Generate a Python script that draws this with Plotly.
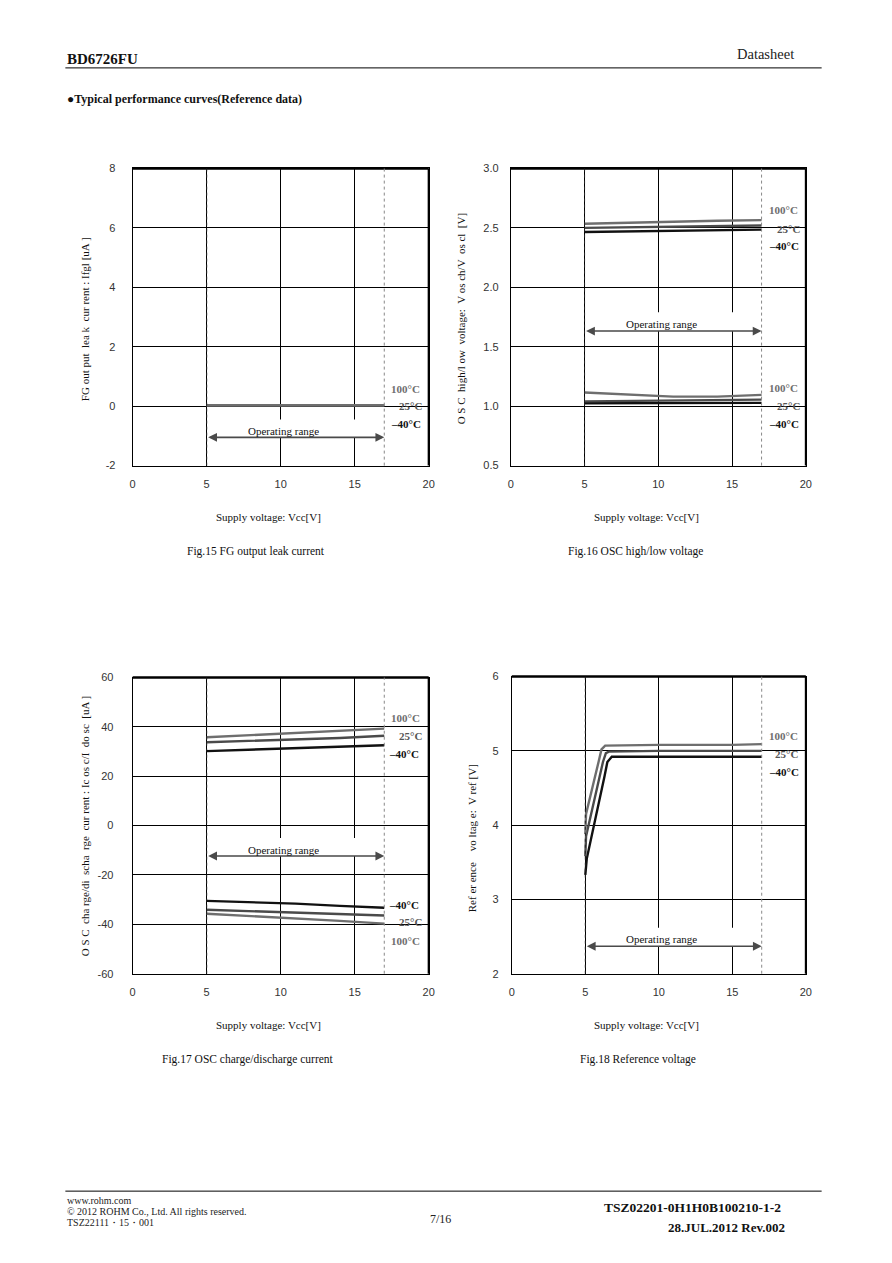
import plotly.graph_objects as go

W, H = 892, 1263

# ---------------- data ----------------
vcc_fg = [5, 8, 11, 14, 17]
fg_100 = [0.03, 0.03, 0.03, 0.03, 0.03]
fg_25 = [0.02, 0.02, 0.02, 0.02, 0.02]
fg_m40 = [0.01, 0.01, 0.01, 0.01, 0.01]

vcc_osc = [5, 8, 11, 14, 17]
osch_100 = [2.535, 2.545, 2.555, 2.560, 2.565]
osch_25 = [2.500, 2.505, 2.510, 2.515, 2.520]
osch_m40 = [2.465, 2.470, 2.475, 2.480, 2.485]
oscl_100 = [1.115, 1.100, 1.080, 1.080, 1.095]
oscl_25 = [1.040, 1.045, 1.045, 1.050, 1.055]
oscl_m40 = [1.025, 1.025, 1.025, 1.025, 1.028]

vcc_ic = [5, 8, 11, 14, 17]
ic_100 = [35.8, 36.6, 37.5, 38.3, 39.3]
ic_25 = [33.8, 34.3, 34.8, 35.5, 36.4]
ic_m40 = [30.2, 30.8, 31.3, 32.0, 32.6]
id_m40 = [-30.5, -31.0, -31.6, -32.5, -33.3]
id_25 = [-34.1, -34.6, -35.2, -35.8, -36.4]
id_100 = [-35.7, -36.6, -37.5, -38.6, -39.7]

vcc_ref_100 = [5.0, 5.05, 5.9, 6.1, 6.35, 10, 15, 17]
vref_100 = [3.88, 4.15, 4.85, 5.02, 5.07, 5.08, 5.08, 5.09]
vcc_ref_25 = [5.0, 5.05, 6.2, 6.4, 6.6, 10, 15, 17]
vref_25 = [3.58, 3.85, 4.85, 4.97, 4.99, 5.00, 5.00, 5.00]
vcc_ref_m40 = [5.0, 5.1, 6.3, 6.5, 6.8, 10, 15, 17]
vref_m40 = [3.33, 3.55, 4.65, 4.85, 4.92, 4.92, 4.92, 4.92]

x_ticks = [0, 5, 10, 15, 20]
y_ticks_fg = [-2, 0, 2, 4, 6, 8]
y_ticks_osc = [0.5, 1.0, 1.5, 2.0, 2.5, 3.0]
y_ticks_ic = [-60, -40, -20, 0, 20, 40, 60]
y_ticks_ref = [2, 3, 4, 5, 6]
temps = ["100°C", "25°C", "–40°C"]
colors = {"100°C": "#6e6e6e", "25°C": "#4a4a4a", "–40°C": "#111111"}

SERIF = "Liberation Serif"
SANS = "Liberation Sans"


def fx(p):
    return p / W


def fy(p):
    return 1 - p / H


fig = go.Figure()

# panels: (suffix, x-px range, y-px range, y range, y ticks, y-title, ytitle px, ystandoff, fmt, xtitle y px)
panels = [
    ("", (131, 430), (164, 464), (-2, 8), y_ticks_fg, "FG out put  lea k  cur rent : Ifgl [uA ]", (83, 316), 14, "{:g}", 516),
    ("2", (513, 811), (164, 464), (0.5, 3.0), y_ticks_osc, "O S C  high/l ow  voltage:  V os ch/V  os cl  [V]", (463, 316), 9, "{:.1f}", 516),
    ("3", (131, 430), (678, 977), (-60, 60), y_ticks_ic, "O S C  cha rge/di  scha  rge  cur rent : Ic os c/I  do sc  [uA ]", (83, 828), 16, "{:g}", 1029),
    ("4", (514, 811), (677, 977), (2, 6), y_ticks_ref, "Ref er ence    vo ltag e:  V ref [V]", (474, 840), 10, "{:g}", 1029),
]

layout_axes = {}
annotations = []
shapes = []

for suf, (xl, xr), (yt, yb), yr, yticks, ytitle, (tx, ty), ystand, fmt, xty in panels:
    xa = "xaxis" + suf
    ya = "yaxis" + suf
    layout_axes[xa] = dict(
        domain=[fx(xl), fx(xr)], range=[0, 20], tickvals=x_ticks,
        anchor="y" + suf, showgrid=True, gridcolor="black", gridwidth=1,
        zeroline=False, showline=True, mirror=True, linecolor="black", linewidth=1,
        ticks="", ticklabelstandoff=8, tickfont=dict(family=SANS, size=11, color="#333"),
        fixedrange=True,
    )
    layout_axes[ya] = dict(
        domain=[fy(yb), fy(yt)], range=list(yr), tickvals=yticks,
        ticktext=[fmt.format(v) for v in yticks],
        anchor="x" + suf, showgrid=True, gridcolor="black", gridwidth=1,
        zeroline=False, showline=True, mirror=True, linecolor="black", linewidth=1,
        ticks="", ticklabelstandoff=ystand, tickfont=dict(family=SANS, size=11, color="#333"),
        fixedrange=True,
    )

    xref = "x" + suf
    yref = "y" + suf
    shapes.append(dict(type="line", xref=xref + " domain", yref=yref + " domain",
                       x0=0, x1=1, y0=1, y1=1, line=dict(color="black", width=2.5), layer="above"))
    shapes.append(dict(type="line", xref=xref + " domain", yref=yref + " domain",
                       x0=1, x1=1, y0=0, y1=1, line=dict(color="black", width=2), layer="above"))
    shapes.append(dict(type="line", xref=xref, yref=yref + " domain",
                       x0=17, x1=17, y0=0, y1=1, line=dict(color="#888", width=1, dash="dot"), layer="above"))
    shapes.append(dict(type="line", xref=xref, yref=yref + " domain",
                       x0=5, x1=5, y0=0, y1=1, line=dict(color="#222", width=1, dash="dot"), layer="above"))

    annotations.append(dict(text="Supply voltage: Vcc[V]", xref="paper", yref="paper",
                            x=fx((xl + xr) / 2 - 12), y=fy(xty), showarrow=False,
                            font=dict(family=SERIF, size=11, color="#111"),
                            xanchor="center", yanchor="middle"))
    annotations.append(dict(text=ytitle, xref="paper", yref="paper", x=fx(tx), y=fy(ty),
                            showarrow=False, textangle=-90,
                            font=dict(family=SERIF, size=11, color="#111"),
                            xanchor="center", yanchor="middle"))

# operating range boxes: (suffix, arrow y, gap top y, text y)
op = [("", -1.05, -0.45, -0.85), ("2", 1.632, 1.79, 1.69), ("3", -12.3, -5.0, -10.0), ("4", 2.37, 2.62, 2.47)]
for suf, ay, gtop, ty in op:
    xref = "x" + suf
    yref = "y" + suf
    shapes.append(dict(type="rect", xref=xref, yref=yref, x0=5.1, x1=16.9, y0=ay, y1=gtop,
                       fillcolor="white", line=dict(width=0), layer="between"))
    annotations.append(dict(text="", xref=xref, yref=yref, x=17, y=ay, ax=5, ay=ay,
                            axref=xref, ayref=yref, showarrow=True, arrowhead=2, arrowside="end+start",
                            arrowsize=1.1, arrowwidth=1.6, arrowcolor="#4a4a4a", standoff=0, startstandoff=0))
    annotations.append(dict(text="Operating range", xref=xref, yref=yref, x=10.2, y=ty, showarrow=False,
                            font=dict(family=SERIF, size=11, color="#111"), yanchor="middle"))


def add_set(suf, xs_list, ys_list):
    # draw -40°C first so the grey curves stay visible where they overlap
    for (xs, ys, t) in reversed(list(zip(xs_list, ys_list, temps))):
        fig.add_trace(go.Scatter(x=xs, y=ys, mode="lines", name=t, xaxis="x" + suf, yaxis="y" + suf,
                                 line=dict(color=colors[t], width=2.4), showlegend=False))


add_set("", [vcc_fg] * 3, [fg_100, fg_25, fg_m40])
add_set("2", [vcc_osc] * 3, [osch_100, osch_25, osch_m40])
add_set("2", [vcc_osc] * 3, [oscl_100, oscl_25, oscl_m40])
add_set("3", [vcc_ic] * 3, [ic_100, ic_25, ic_m40])
add_set("3", [vcc_ic] * 3, [id_100, id_25, id_m40])
add_set("4", [vcc_ref_100, vcc_ref_25, vcc_ref_m40], [vref_100, vref_25, vref_m40])

labels = [
    ("", [("100°C", 17.3, 0.57), ("25°C", 17.85, 0.0), ("–40°C", 17.3, -0.6)]),
    ("2", [("100°C", 17.4, 2.65), ("25°C", 17.9, 2.49), ("–40°C", 17.4, 2.35),
           ("100°C", 17.4, 1.15), ("25°C", 17.9, 1.0), ("–40°C", 17.4, 0.853)]),
    ("3", [("100°C", 17.3, 43.5), ("25°C", 17.85, 36.3), ("–40°C", 17.2, 29.1),
           ("–40°C", 17.2, -32.3), ("25°C", 17.85, -39.1), ("100°C", 17.3, -46.8)]),
    ("4", [("100°C", 17.35, 5.2), ("25°C", 17.8, 4.96), ("–40°C", 17.35, 4.72)]),
]
for suf, items in labels:
    for t, x, y in items:
        annotations.append(dict(text="<b>%s</b>" % t, xref="x" + suf, yref="y" + suf, x=x, y=y,
                                showarrow=False, xanchor="left", yanchor="middle",
                                font=dict(family=SERIF, size=11, color=colors[t] if t != "25°C" else "#555")))

captions = [("Fig.15 FG output leak current", 256, 551), ("Fig.16 OSC high/low voltage", 639, 551),
            ("Fig.17 OSC charge/discharge current", 247, 1064), ("Fig.18 Reference voltage", 641, 1064)]
for t, x, y in captions:
    annotations.append(dict(text=t, xref="paper", yref="paper", x=fx(x), y=fy(y), showarrow=False,
                            font=dict(family=SERIF, size=11.5, color="#111"), xanchor="center", yanchor="middle"))

page_text = [
    dict(text="<b>BD6726FU</b>", x=fx(63), y=fy(54), xanchor="left", font=dict(family=SERIF, size=15, color="#111")),
    dict(text="Datasheet", x=fx(801), y=fy(48), xanchor="right", font=dict(family=SERIF, size=14.5, color="#222")),
    dict(text="<b>●Typical performance curves(Reference data)</b>", x=fx(63), y=fy(94), xanchor="left",
         font=dict(family=SERIF, size=12, color="#111")),
    dict(text="www.rohm.com", x=fx(63), y=fy(1206), xanchor="left", font=dict(family=SERIF, size=10, color="#222")),
    dict(text="© 2012 ROHM Co., Ltd. All rights reserved.", x=fx(63), y=fy(1217), xanchor="left",
         font=dict(family=SERIF, size=10, color="#222")),
    dict(text="TSZ22111・15・001", x=fx(63), y=fy(1228), xanchor="left", font=dict(family=SERIF, size=10, color="#222")),
    dict(text="7/16", x=fx(442), y=fy(1225), xanchor="center", font=dict(family=SERIF, size=12, color="#222")),
    dict(text="<b>TSZ02201-0H1H0B100210-1-2</b>", x=fx(788), y=fy(1213), xanchor="right",
         font=dict(family=SERIF, size=13.5, color="#111")),
    dict(text="<b>28.JUL.2012 Rev.002</b>", x=fx(792), y=fy(1233), xanchor="right",
         font=dict(family=SERIF, size=13, color="#111")),
]
for a in page_text:
    a.update(xref="paper", yref="paper", showarrow=False, yanchor="middle")
annotations += page_text

shapes += [
    dict(type="line", xref="paper", yref="paper", x0=fx(63), x1=fx(827), y0=fy(62.5), y1=fy(62.5),
         line=dict(color="black", width=1)),
    dict(type="line", xref="paper", yref="paper", x0=fx(63), x1=fx(827), y0=fy(1196.5), y1=fy(1196.5),
         line=dict(color="black", width=1)),
]

fig.update_layout(
    width=W, height=H, margin=dict(l=0, r=0, t=0, b=0),
    paper_bgcolor="white", plot_bgcolor="white",
    annotations=annotations, shapes=shapes, showlegend=False,
    **layout_axes,
)

fig.write_html("out.html", config={"displayModeBar": False},
               post_script="document.body.style.margin='0';document.body.style.overflow='hidden';")
